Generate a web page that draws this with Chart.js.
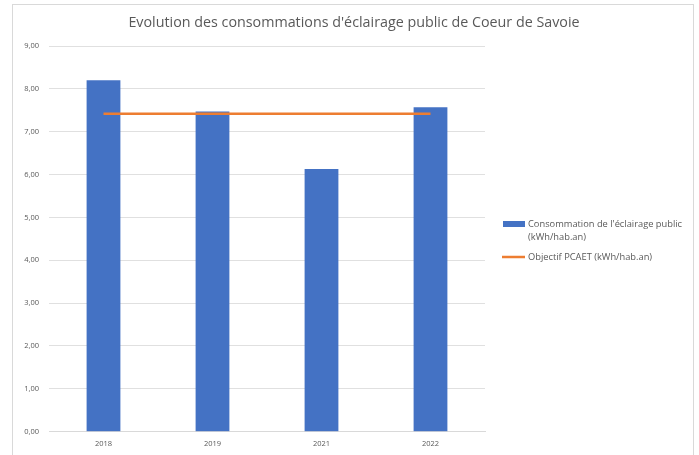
<!DOCTYPE html>
<html>
<head>
<meta charset="utf-8">
<script src="https://cdn.jsdelivr.net/npm/chart.js@4/dist/chart.umd.min.js"></script>
<style>
  html, body { margin: 0; padding: 0; background: #fff; }
  #wrap { position: relative; width: 699px; height: 455px; }
</style>
</head>
<body>
<div id="wrap"><canvas id="c" width="699" height="455"></canvas></div>
<script>
const chartTitle = "Evolution des consommations d'éclairage public de Coeur de Savoie";
const categories = ['2018', '2019', '2021', '2022'];
const consommation = [8.20, 7.47, 6.13, 7.57];
const objectif = [7.42, 7.42, 7.42, 7.42];
const seriesNames = ["Consommation de l'éclairage public (kWh/hab.an)", "Objectif PCAET (kWh/hab.an)"];
const yTickMin = 0, yTickMax = 9, yTickStep = 1;

const FONT = "'Open Sans', 'Liberation Sans', sans-serif";
const GREY = '#595959';
const BLUE = '#4472C4';
const ORANGE = '#ED7D31';

function wrapText(ctx, text, maxW) {
  const words = text.split(' ');
  const lines = [];
  let cur = '';
  for (const w of words) {
    const t = cur ? cur + ' ' + w : w;
    if (ctx.measureText(t).width > maxW && cur) { lines.push(cur); cur = w; }
    else cur = t;
  }
  if (cur) lines.push(cur);
  return lines;
}

const decor = {
  id: 'decor',
  beforeDraw(chart) {
    const ctx = chart.ctx;
    ctx.save();
    ctx.fillStyle = '#fff';
    ctx.fillRect(0, 0, chart.width, chart.height);
    ctx.strokeStyle = '#d9d9d9';
    ctx.lineWidth = 1;
    ctx.strokeRect(12.5, 4.5, 681, 470);
    ctx.restore();
  },
  afterDraw(chart) {
    const ctx = chart.ctx;
    ctx.save();
    // title
    ctx.fillStyle = GREY;
    ctx.font = '14.3px ' + FONT;
    ctx.textAlign = 'center';
    ctx.textBaseline = 'middle';
    ctx.fillText(chartTitle, 354, 22.5);
    // legend
    ctx.textAlign = 'left';
    ctx.font = '9.3px ' + FONT;
    const ds = chart.data.datasets;
    const x0 = 503, tx = 528;
    let y = 224;
    const lh = 13;
    const lines0 = wrapText(ctx, ds[0].label, 160);
    ctx.fillStyle = ds[0].backgroundColor;
    ctx.fillRect(x0, y - 3, 22, 6);
    ctx.fillStyle = GREY;
    lines0.forEach((l, i) => ctx.fillText(l, tx, y + i * lh));
    y += (lines0.length - 1) * lh + 20;
    ctx.strokeStyle = ds[1].borderColor;
    ctx.lineWidth = 2.5;
    ctx.beginPath();
    ctx.moveTo(x0 - 1, y);
    ctx.lineTo(x0 + 22, y);
    ctx.stroke();
    ctx.fillStyle = GREY;
    wrapText(ctx, ds[1].label, 160).forEach((l, i) => ctx.fillText(l, tx, y + i * lh));
    ctx.restore();
  }
};

new Chart(document.getElementById('c'), {
  data: {
    labels: categories,
    datasets: [
      {
        type: 'bar',
        label: seriesNames[0],
        data: consommation,
        backgroundColor: BLUE,
        borderWidth: 0,
        categoryPercentage: 1,
        barPercentage: 0.31,
        order: 2
      },
      {
        type: 'line',
        label: seriesNames[1],
        data: objectif,
        borderColor: ORANGE,
        backgroundColor: ORANGE,
        borderWidth: 2.5,
        pointRadius: 0,
        tension: 0,
        order: 1
      }
    ]
  },
  options: {
    responsive: false,
    animation: false,
    devicePixelRatio: 1,
    layout: { padding: { top: 46, right: 214, left: 0, bottom: 0 } },
    plugins: {
      legend: { display: false },
      title: { display: false },
      tooltip: { enabled: false }
    },
    scales: {
      x: {
        grid: { display: false, drawTicks: false },
        border: { display: true, color: '#d9d9d9' },
        ticks: { color: GREY, font: { family: FONT, size: 7.5 }, padding: 8 },
        afterFit(s) { s.height = 23.3; }
      },
      y: {
        min: yTickMin,
        max: yTickMax,
        grid: { color: '#e0e0e0', drawTicks: false },
        border: { display: false },
        ticks: {
          stepSize: yTickStep,
          color: GREY,
          font: { family: FONT, size: 7.5 },
          padding: 10,
          callback: v => v.toFixed(2).replace('.', ',')
        },
        afterFit(s) { s.width = 49; }
      }
    }
  },
  plugins: [decor]
});
</script>
</body>
</html>
